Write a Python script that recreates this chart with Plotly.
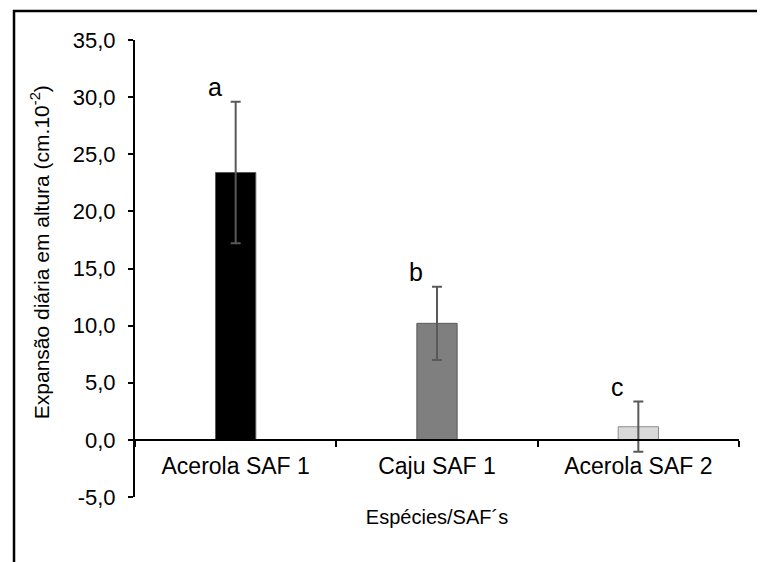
import plotly.graph_objects as go

categories = ["Acerola SAF 1", "Caju SAF 1", "Acerola SAF 2"]
values = [23.4, 10.2, 1.15]
errors = [6.2, 3.2, 2.2]
letters = ["a", "b", "c"]
bar_colors = ["#000000", "#7f7f7f", "#d9d9d9"]
bar_lines = ["#595959", "#595959", "#8c8c8c"]
y_ticks = [-5, 0, 5, 10, 15, 20, 25, 30, 35]
y_tick_text = [f"{v:.1f}".replace(".", ",") for v in y_ticks]

FONT = "Liberation Sans, Arial"

fig = go.Figure()
fig.add_trace(go.Bar(
    x=categories, y=values, width=0.2,
    marker=dict(color=bar_colors, line=dict(color=bar_lines, width=1)),
    error_y=dict(type="data", array=errors, visible=True,
                 color="#595959", thickness=2, width=5),
    showlegend=False,
))

for c, v, e, t in zip(categories, values, errors, letters):
    fig.add_annotation(x=c, y=v + e, text=t, showarrow=False,
                       xref="x", yref="y", xanchor="center", yanchor="bottom",
                       xshift=-21, yshift=-1,
                       font=dict(family=FONT, size=25, color="#000000"))

# y-axis title as a rotated annotation
fig.add_annotation(x=-0.157, y=0.536, xref="paper", yref="paper",
                   text="Expansão diária em altura (cm.10<sup>-2</sup>)",
                   textangle=-90, showarrow=False, xanchor="center", yanchor="middle",
                   font=dict(family=FONT, size=21, color="#000000"))

# the page body adds an 8px offset; margins compensate for it
fig.update_layout(
    width=765, height=562,
    margin=dict(l=127, r=34, t=32, b=73),
    paper_bgcolor="white", plot_bgcolor="white",
    font=dict(family=FONT, size=22, color="#000000"),
    bargap=0.8,
    xaxis=dict(
        type="category", anchor="free", position=0.125,
        showline=True, linecolor="#000000", linewidth=2,
        ticks="outside", tickson="boundaries", ticklen=6, tickwidth=2, tickcolor="#000000",
        ticklabelstandoff=6,
        showgrid=False, zeroline=False,
        tickfont=dict(size=23),
        title=dict(text="Espécies/SAF´s", font=dict(size=20), standoff=31),
    ),
    yaxis=dict(
        range=[-5, 35], tickvals=y_ticks, ticktext=y_tick_text,
        showline=True, linecolor="#000000", linewidth=2,
        ticks="outside", ticklen=5, tickwidth=2, tickcolor="#000000",
        ticklabelstandoff=8,
        showgrid=False, zeroline=False,
        tickfont=dict(size=22),
    ),
)

fig.add_shape(type="rect", xref="paper", yref="paper",
              x0=-0.2003, x1=1.2, y0=-0.4, y1=1.0635,
              line=dict(color="#000000", width=2.5), fillcolor="rgba(0,0,0,0)", layer="above")

fig.write_html("out.html")
